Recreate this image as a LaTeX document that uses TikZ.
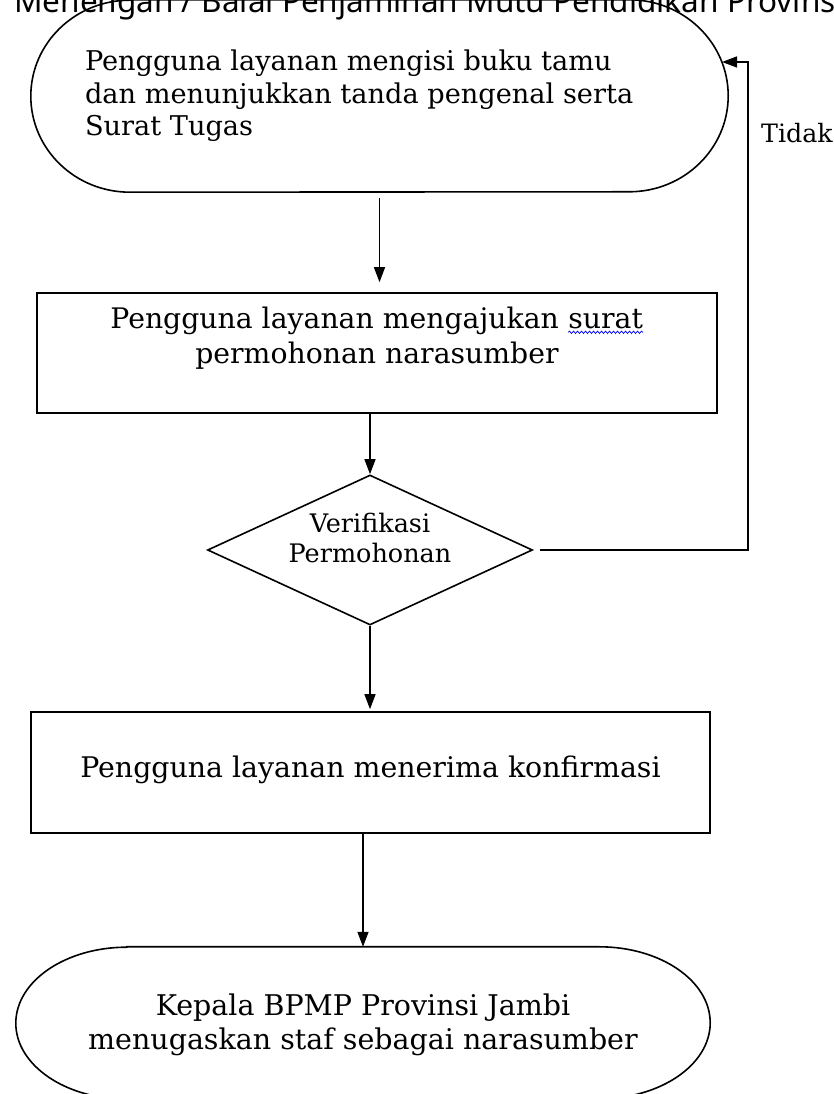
\documentclass[tikz,border=0pt]{standalone}
\usepackage{fontspec}
\setmainfont{DejaVu Serif}
\newfontfamily\headfont{Noto Sans}
\usetikzlibrary{shapes.geometric,arrows.meta,positioning,decorations.pathmorphing}

\tikzstyle{procbox}=[draw,rectangle,line width=1.6pt,inner sep=0pt]
\tikzstyle{decision}=[draw,diamond,line width=1.6pt,inner sep=0pt]
\tikzstyle{terminal}=[rectangle,inner sep=0pt]
\tikzstyle{flowtext}=[align=center,inner sep=0pt]
\tikzstyle{flowarrow}=[-{Triangle[length=15pt,width=11pt]},line width=1.4pt]

% outline of a start/end node: straight top and bottom, half ellipses at the ends
\newcommand{\termline}[3]{%
  \draw[line width=1.6pt] ([xshift=#2]#1.north west) -- ([xshift=-#2]#1.north east)
    arc[start angle=90,end angle=-90,x radius=#2,y radius=#3]
    -- ([xshift=#2]#1.south west)
    arc[start angle=270,end angle=90,x radius=#2,y radius=#3] -- cycle;}
% word with a blue wavy underline
\newcommand{\spellwave}[1]{\tikz[baseline=(w.base)]{\node[inner sep=0pt] (w) {#1};
  \draw[blue,line width=0.7pt,decorate,decoration={snake,amplitude=1.2pt,segment length=4pt}]
    ([yshift=-4pt]w.base west) -- ([yshift=-4pt]w.base east);}}

\begin{document}
\begin{tikzpicture}[x=1pt,y=1pt]
  \useasboundingbox (0,0) rectangle (834,1094);
  \clip (0,0) rectangle (834,1094);
  \fill[white] (0,0) rectangle (834,1094);

  % heading, cut off at the top
  \node[anchor=base west,inner sep=0pt,font=\headfont\fontsize{31.5}{36}\selectfont] (judul) at (14,1081)
    {Menengah / Balai Penjaminan Mutu Pendidikan Provinsi};

  % shapes
  \node[terminal,minimum width=697,minimum height=192] (tamu) at (379.5,998) {};
  \node[procbox,minimum width=680,minimum height=120] (ajukan) at (377,741) {};
  \node[decision,minimum width=325,minimum height=150] (verif) at (370,544) {};
  \node[procbox,minimum width=679,minimum height=121] (terima) at (370.5,321.5) {};
  \node[terminal,minimum width=694,minimum height=152] (kepala) at (363,71) {};
  \termline{tamu}{99}{96}
  \termline{kepala}{111}{76}

  % texts
  \node[flowtext,align=left,anchor=west,font=\fontsize{27.2}{32.5}\selectfont] (tamuTxt) at ([xshift=54]tamu.west)
    {Pengguna layanan mengisi buku tamu\\dan menunjukkan tanda pengenal serta\\Surat Tugas};
  \node[flowtext,font=\fontsize{28.3}{35}\selectfont] (ajukanTxt) at ([yshift=15]ajukan.center)
    {Pengguna layanan mengajukan \spellwave{surat}\\permohonan narasumber};
  \node[flowtext,font=\fontsize{25.5}{30}\selectfont] (verifTxt) at ([yshift=12]verif.center)
    {Verifikasi\\Permohonan};
  \node[flowtext,font=\fontsize{28.4}{34}\selectfont] (terimaTxt) at ([yshift=3]terima.center)
    {Pengguna layanan menerima konfirmasi};
  \node[flowtext,font=\fontsize{28.5}{34}\selectfont] (kepalaTxt) at ([yshift=-2]kepala.center)
    {Kepala BPMP Provinsi Jambi\\menugaskan staf sebagai narasumber};
  \node[anchor=base west,inner sep=0pt,font=\fontsize{25.3}{30}\selectfont] (tidak) at (761,951) {Tidak};

  % connectors
  \coordinate (loopRight) at (748,544);
  \coordinate (loopEnd) at (722,1032);
  \draw[flowarrow,shorten <=6pt,shorten >=10pt] (tamu.south) -- (tamu.south |- ajukan.north);
  \draw[flowarrow] (verif.north |- ajukan.south) -- (verif.north);
  \draw[flowarrow,shorten >=2pt] (verif.south) -- (verif.south |- terima.north);
  \draw[flowarrow] (kepala.north |- terima.south) -- (kepala.north);
  \draw[flowarrow,shorten <=7pt] (verif.east) -- (loopRight) |- (loopEnd);
\end{tikzpicture}
\end{document}
